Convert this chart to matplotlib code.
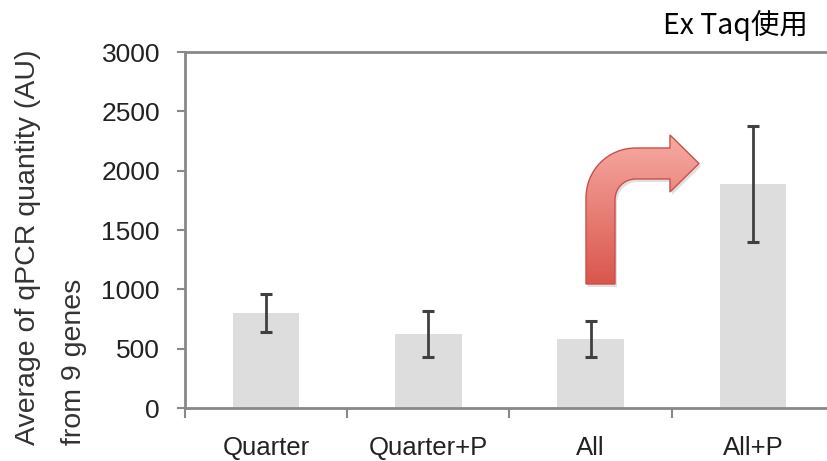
import numpy as np
import matplotlib
matplotlib.use("Agg")
import matplotlib.pyplot as plt
from matplotlib.path import Path
from matplotlib.patches import PathPatch

categories = ['Quarter', 'Quarter+P', 'All', 'All+P']
means = [800, 625, 580, 1890]
errors = [160, 195, 150, 490]
yticks = [0, 500, 1000, 1500, 2000, 2500, 3000]

plt.rcParams['font.family'] = ['Liberation Sans', 'DejaVu Sans']

fig = plt.figure(figsize=(8.28, 4.61), dpi=100)
ax = fig.add_axes([185 / 828, 53 / 461, 649 / 828, 356 / 461])

xs = np.arange(len(categories))
ax.bar(xs, means, width=0.41, color='#dddddd', zorder=1)
ax.errorbar(xs, means, yerr=errors, fmt='none', ecolor='#404040',
            elinewidth=2, capsize=4, capthick=2.2, zorder=2)

ax.set_xlim(-0.5, 3.5)
ax.set_ylim(0, 3000)
ax.set_yticks(yticks)
ax.set_xticks(xs)
ax.set_xticklabels(categories)
ax.tick_params(axis='x', length=0, pad=20, labelsize=18.5, labelcolor='#222222')
ax.tick_params(axis='y', length=6, width=1.5, color='#888888', pad=12,
               labelsize=19, labelcolor='#222222')
# tick marks between the categories
ax.set_xticks(np.arange(len(categories) + 1) - 0.5, minor=True)
ax.tick_params(axis='x', which='minor', length=7, width=1.5, color='#888888')

for side in ['left', 'bottom', 'top']:
    ax.spines[side].set_color('#888888')
    ax.spines[side].set_linewidth(2)
ax.spines['right'].set_visible(False)

fig.text(51 / 828, 1 - 247 / 461, 'Average of qPCR quantity (AU)\nfrom 9 genes',
         rotation=90, ha='center', va='center', multialignment='left',
         fontsize=20.5, color='#333333', linespacing=2.0)

fig.text(808 / 828, 1 - 25 / 461, 'Ex Taq使用', ha='right', va='center',
         fontsize=20.5, family=['Noto Sans CJK JP', 'DejaVu Sans'], color='black')

# red bent arrow, drawn on an overlay in pixel coordinates
ov = fig.add_axes([0, 0, 1, 1], zorder=5)
ov.axis('off')
ov.patch.set_alpha(0)

verts = [(586, 284), (586, 198),
         (586, 170), (608, 148), (636, 148),
         (670, 148), (670, 135), (699, 163.5), (670, 192), (670, 179),
         (636, 179),
         (624, 179), (615, 188), (615, 200),
         (615, 284), (586, 284)]
codes = [Path.MOVETO, Path.LINETO,
         Path.CURVE4, Path.CURVE4, Path.CURVE4,
         Path.LINETO, Path.LINETO, Path.LINETO, Path.LINETO, Path.LINETO,
         Path.LINETO,
         Path.CURVE4, Path.CURVE4, Path.CURVE4,
         Path.LINETO, Path.CLOSEPOLY]
path = Path(verts, codes)

shadow = PathPatch(Path(np.array(verts) + [2, 3], codes), facecolor='#000000',
                   alpha=0.12, edgecolor='none')
ov.add_patch(shadow)
patch = PathPatch(path, facecolor='none', edgecolor='#c8504a', linewidth=1)
ov.add_patch(patch)
grad = np.linspace(0, 1, 256).reshape(-1, 1)
cmap = matplotlib.colors.LinearSegmentedColormap.from_list('r', ['#f7aca5', '#d9554b'])
im = ov.imshow(grad, cmap=cmap, extent=(584, 701, 286, 133), aspect='auto',
               zorder=4, interpolation='bilinear')
im.set_clip_path(patch)
patch.set_zorder(5)
ov.set_xlim(0, 828)
ov.set_ylim(461, 0)

fig.savefig('out.png', dpi=100)
